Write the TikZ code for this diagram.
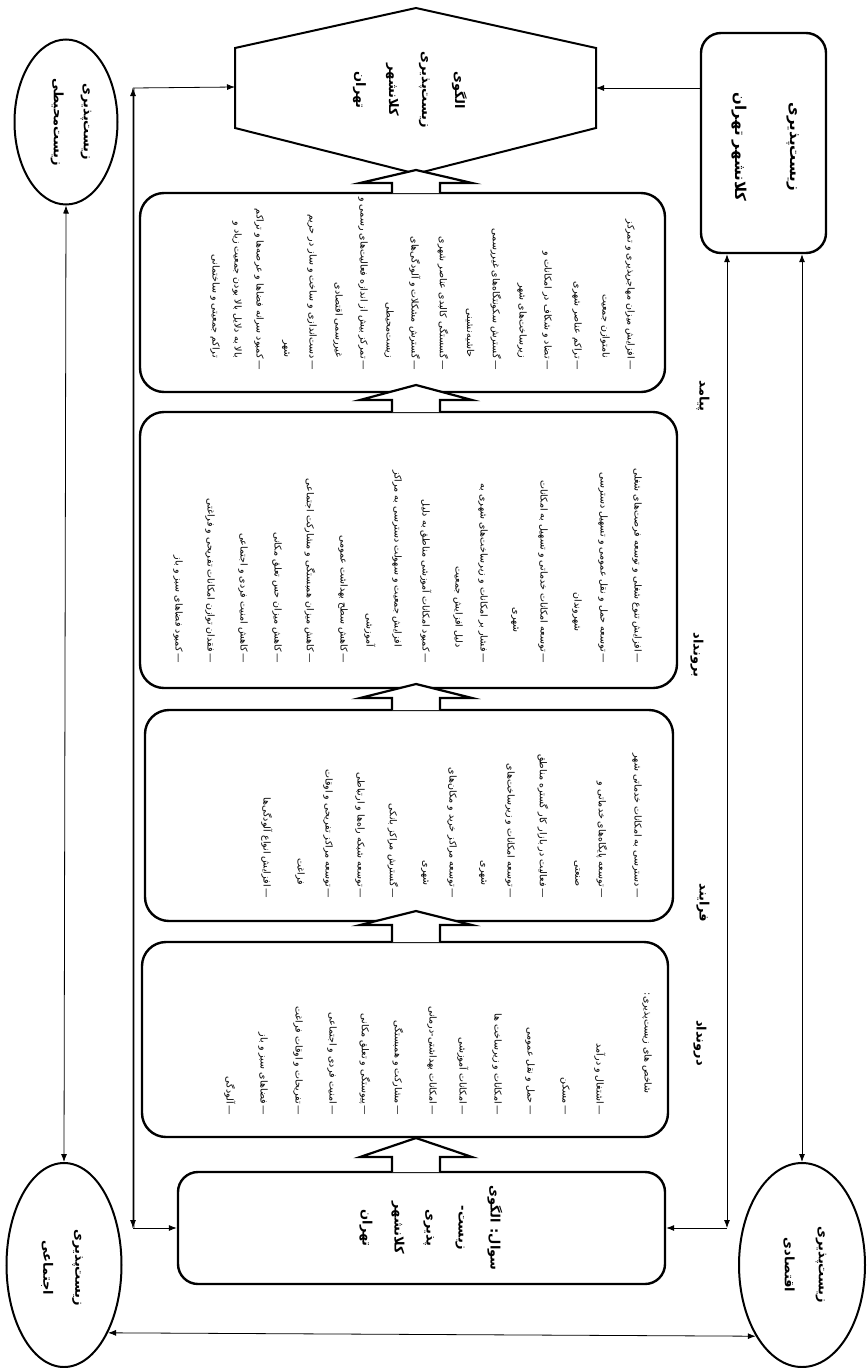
\documentclass[tikz,border=0pt]{standalone}
\usepackage{fontspec}
\usetikzlibrary{arrows.meta,shapes.geometric}
\newfontfamily\arabicfont[Script=Arabic]{DejaVu Sans}
\TeXXeTstate=1
\newcommand\fa[1]{\beginR #1\endR}
\newcommand\dsh{—\kern1.5pt}
\tikzset{
  itm/.style={rotate=-90, anchor=east, inner sep=0pt, font=\arabicfont\fontsize{9.5}{12}\selectfont},
  lbl/.style={rotate=-90, inner sep=0pt, align=center, font=\arabicfont\bfseries\fontsize{13}{33}\selectfont},
  bigbox/.style={draw, line width=2.4pt, rounded corners=24pt},
  oval/.style={draw, ellipse, line width=2pt, inner sep=0pt},
  conn/.style={line width=0.8pt, -{Latex[length=8pt,width=6pt]}},
  bconn/.style={line width=0.8pt, {Latex[length=8pt,width=6pt]}-{Latex[length=8pt,width=6pt]}},
  barrow/.style={line width=2.2pt, fill=white, line join=miter},
  hexline/.style={line width=2pt}
}
\newcommand\blockarr[3]{\draw[barrow] (392,#1) -- (392,#2) -- (360,#2) -- (416,#3) -- (472,#2) -- (440,#2) -- (440,#1);}
\begin{document}
\begin{tikzpicture}[x=1pt,y=-1pt]
\useasboundingbox (0,0) rectangle (867,1368);
\fill[white] (0,0) rectangle (867,1368);

% main boxes
\node[bigbox, minimum width=525pt, minimum height=199pt] (b1) at (402.5,292.5) {};
\node[bigbox, minimum width=537pt, minimum height=276pt] (b2) at (408.5,550) {};
\node[bigbox, minimum width=528pt, minimum height=211pt] (b3) at (409,815.5) {};
\node[bigbox, minimum width=526pt, minimum height=195pt] (b4) at (405,1039.5) {};
\node[bigbox, minimum width=487pt, minimum height=112pt, rounded corners=20pt] (q) at (421.5,1228) {};
\node[bigbox, minimum width=125pt, minimum height=220pt, rounded corners=20pt] (tr) at (763.5,143) {};

% hexagon
\draw[hexline, line join=miter] (425,176) -- (235,128) -- (235,48) -- (416,8) -- (596,48) -- (596,128) -- (407,176);
\coordinate (hexL) at (235,87);
\coordinate (hexR) at (596,88);
\node[lbl] (hext) at (410,90) {\fa{الگوی}\\\fa{زیست‌پذیری}\\\fa{کلانشهر}\\\fa{تهران}};

% ellipses
\node[oval, minimum width=103pt, minimum height=165pt] (eTL) at (66,122) {};
\node[oval, minimum width=115pt, minimum height=204pt] (eBL) at (64,1265) {};
\node[oval, minimum width=126pt, minimum height=204pt] (eBR) at (802,1265) {};
\node[lbl, font=\arabicfont\bfseries\fontsize{13}{30}\selectfont] (tTL) at (71,122) {\fa{زیست‌پذیری}\\\fa{زیست‌محیطی}};
\node[lbl, font=\arabicfont\bfseries\fontsize{13}{32}\selectfont] (tBL) at (62,1268) {\fa{زیست‌پذیری}\\\fa{اجتماعی}};
\node[lbl, font=\arabicfont\bfseries\fontsize{13}{34}\selectfont] (tBR) at (805,1265) {\fa{زیست‌پذیری}\\\fa{اقتصادی}};

% top-right box text
\node[lbl, font=\arabicfont\bfseries\fontsize{15}{55}\selectfont] (trt) at (765,147) {\fa{زیست‌پذیری}\\\fa{کلانشهر تهران}};

% question box text
\node[lbl, font=\arabicfont\bfseries\fontsize{13}{32}\selectfont] (qt) at (431,1228) {\fa{سوال: الگوی}\\\fa{زیست-}\\\fa{پذیری}\\\fa{کلانشهر}\\\fa{تهران}};

% stage labels
\node[lbl] (lpy) at (703,396) {\fa{پیامد}};
\node[lbl] (lbr) at (697,655) {\fa{برونداد}};
\node[lbl] (lfr) at (703,903) {\fa{فرایند}};
\node[lbl] (ldr) at (700,1043) {\fa{درونداد}};

% box 1 items
\node[itm] (a1) at (630,370) {\fa{\dsh افزایش میزان مهاجرپذیری و تمرکز}};
\node[itm] (a2) at (605,358) {\fa{نامتوازن جمعیت}};
\node[itm] (a3) at (577,370) {\fa{\dsh تراکم عناصر شهری}};
\node[itm] (a4) at (547,370) {\fa{\dsh تضاد و شکاف در امکانات و}};
\node[itm] (a5) at (522,358) {\fa{زیرساخت‌های شهر}};
\node[itm] (a6) at (496,370) {\fa{\dsh گسترش سکونتگاه‌های غیررسمی}};
\node[itm] (a7) at (470,358) {\fa{حاشیه‌نشینی}};
\node[itm] (a8) at (443,370) {\fa{\dsh گسستگی کالبدی عناصر شهری}};
\node[itm] (a9) at (415,370) {\fa{\dsh گسترش مشکلات و آلودگی‌های}};
\node[itm] (a10) at (389,358) {\fa{زیست‌محیطی}};
\node[itm] (a11) at (363,370) {\fa{\dsh تمرکز بیش از اندازه فعالیت‌های رسمی و}};
\node[itm] (a12) at (338,358) {\fa{غیررسمی اقتصادی}};
\node[itm] (a13) at (312,370) {\fa{\dsh دست‌اندازی و ساخت و ساز در حریم}};
\node[itm] (a14) at (286,358) {\fa{شهر}};
\node[itm] (a15) at (259,370) {\fa{\dsh کمبود سرانه فضاها و عرصه‌ها و تراکم}};
\node[itm] (a16) at (237,358) {\fa{بالا به دلایل بالا بودن جمعیت زیاد و}};
\node[itm] (a17) at (215,358) {\fa{تراکم جمعیتی و ساختمانی}};

% box 2 items
\node[itm] (c1) at (637,663) {\fa{\dsh افزایش تنوع شغلی و توسعه فرصت‌های شغلی}};
\node[itm] (c2) at (603,663) {\fa{\dsh توسعه حمل و نقل عمومی و تسهیل دسترسی}};
\node[itm] (c3) at (577,632) {\fa{شهروندان}};
\node[itm] (c4) at (543,663) {\fa{\dsh توسعه امکانات خدماتی و تسهیل به امکانات}};
\node[itm] (c5) at (515,633) {\fa{شهری}};
\node[itm] (c6) at (483,663) {\fa{\dsh فشار بر امکانات و زیرساخت‌های شهری به}};
\node[itm] (c7) at (458,648) {\fa{دلیل افزایش جمعیت}};
\node[itm] (c8) at (426,663) {\fa{\dsh کمبود امکانات آموزشی مناطق به دلیل}};
\node[itm] (c9) at (397,647) {\fa{افزایش جمعیت و سهولت دسترسی به مراکز}};
\node[itm] (c10) at (370,647) {\fa{آموزشی}};
\node[itm] (c11) at (343,663) {\fa{\dsh کاهش سطح بهداشت عمومی}};
\node[itm] (c12) at (310,663) {\fa{\dsh کاهش میزان همبستگی و مشارکت اجتماعی}};
\node[itm] (c13) at (277,663) {\fa{\dsh کاهش میزان حس تعلق مکانی}};
\node[itm] (c14) at (243,663) {\fa{\dsh کاهش امنیت فردی و اجتماعی}};
\node[itm] (c15) at (210,663) {\fa{\dsh فقدان توازن امکانات تفریحی و فراغتی}};
\node[itm] (c16) at (178,663) {\fa{\dsh کمبود فضاهای سبز و باز}};

% box 3 items
\node[itm] (d1) at (637,898) {\fa{\dsh دسترسی به امکانات خدماتی شهر}};
\node[itm] (d2) at (602,898) {\fa{\dsh توسعه پایگاه‌های خدماتی و}};
\node[itm] (d3) at (577,887) {\fa{صنعتی}};
\node[itm] (d4) at (543,898) {\fa{\dsh فعالیت در بازار کار گستره مناطق}};
\node[itm] (d5) at (510,898) {\fa{\dsh توسعه امکانات و زیرساخت‌های}};
\node[itm] (d6) at (483,886) {\fa{شهری}};
\node[itm] (d7) at (452,898) {\fa{\dsh توسعه مراکز خرید و مکان‌های}};
\node[itm] (d8) at (425,886) {\fa{شهری}};
\node[itm] (d9) at (393,898) {\fa{\dsh گسترش مراکز بانکی}};
\node[itm] (d10) at (360,898) {\fa{\dsh توسعه شبکه راه‌ها و ارتباطی}};
\node[itm] (d11) at (328,898) {\fa{\dsh توسعه مراکز تفریحی و اوقات}};
\node[itm] (d12) at (300,885) {\fa{فراغت}};
\node[itm] (d13) at (267,898) {\fa{\dsh افزایش انواع آلودگی‌ها}};

% box 4 items
\node[itm] (e1) at (647,1094) {\fa{شاخص های زیست‌پذیری:}};
\node[itm] (e2) at (600,1115) {\fa{\dsh اشتغال و درآمد}};
\node[itm] (e3) at (565,1115) {\fa{\dsh مسکن}};
\node[itm] (e4) at (530,1115) {\fa{\dsh حمل و نقل عمومی}};
\node[itm] (e5) at (497,1115) {\fa{\dsh امکانات و زیرساخت ها}};
\node[itm] (e6) at (463,1115) {\fa{\dsh امکانات آموزشی}};
\node[itm] (e7) at (432,1115) {\fa{\dsh امکانات بهداشتی-درمانی}};
\node[itm] (e8) at (398,1115) {\fa{\dsh مشارکت و همبستگی}};
\node[itm] (e9) at (365,1115) {\fa{\dsh پیوستگی و تعلق مکانی}};
\node[itm] (e10) at (332,1115) {\fa{\dsh امنیت فردی و اجتماعی}};
\node[itm] (e11) at (298,1115) {\fa{\dsh تفریحات و اوقات فراغت}};
\node[itm] (e12) at (263,1115) {\fa{\dsh فضاهای سبز و باز}};
\node[itm] (e13) at (230,1115) {\fa{\dsh آلودگی}};

% block arrows
\blockarr{1172}{1157}{1138}
\blockarr{942}{925}{911}
\blockarr{710}{698}{684}
\blockarr{412}{400}{385}
\blockarr{193}{183}{170}

% connectors
\coordinate (cTL) at (133,88);
\coordinate (cBL) at (133,1228);
\coordinate (cBR) at (727,1228);
\draw[gray!70, line width=3pt] (cTL) -- (cBL);
\draw[bconn] (cTL) -- (cBL);
\draw[conn] (cTL) -- (hexL);
\draw[conn] (cBL) -- (q.west);
\draw[conn] (tr.west |- hexR) -- (hexR);
\draw[bconn] (tr.south -| cBR) -- (cBR);
\draw[conn] (cBR) -- (q.east);
\draw[bconn] (tr.south -| eBR.north) -- (eBR.north);
\draw[bconn] (eTL.south) -- (eBL.north);
\draw[bconn] (eBL.303) -- (eBR.237);
\end{tikzpicture}
\end{document}
